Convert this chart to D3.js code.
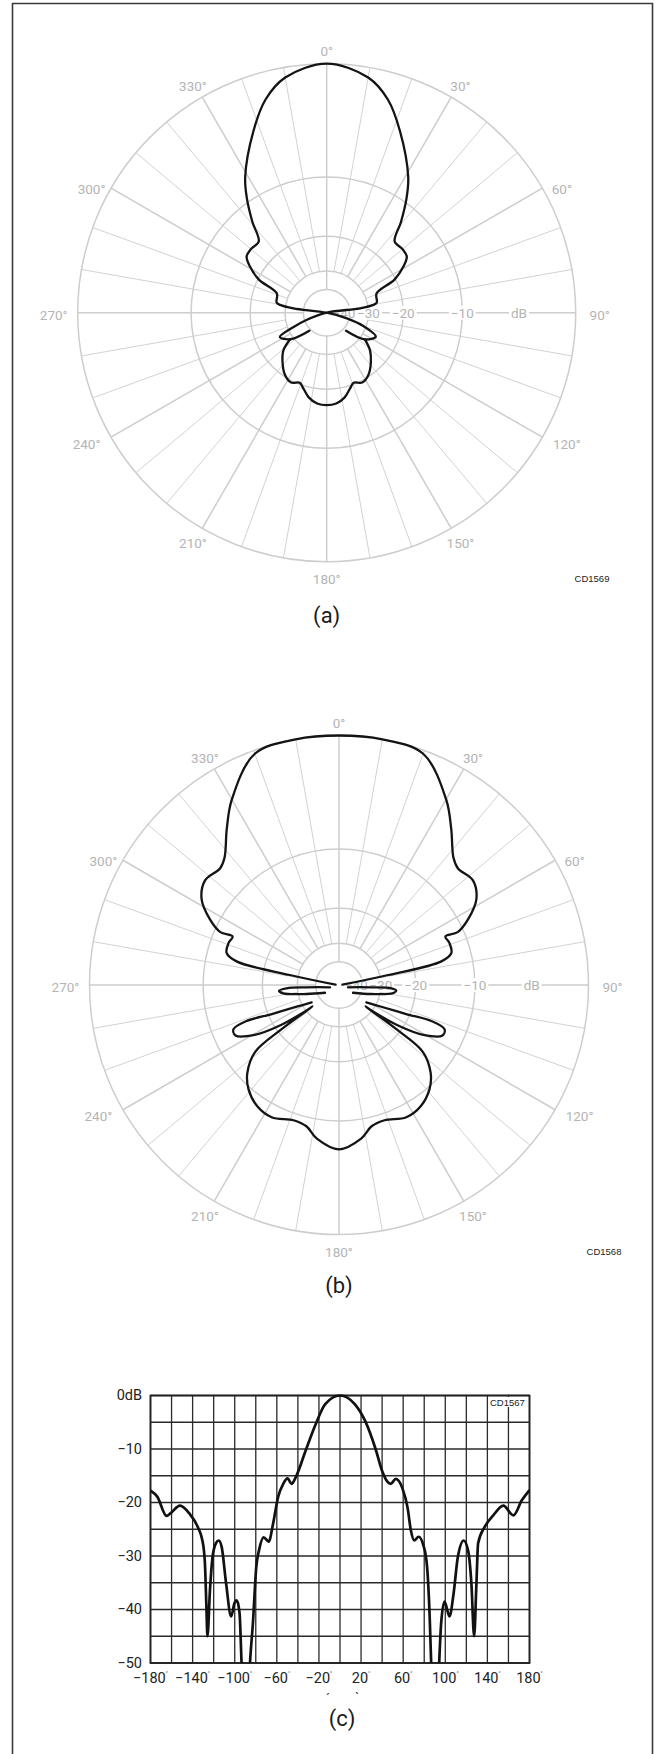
<!DOCTYPE html>
<html><head><meta charset="utf-8">
<script src="https://cdn.jsdelivr.net/npm/d3@7"></script>
<style>html,body{margin:0;padding:0;background:#fff;} svg{display:block;}</style>
</head><body>
<script>
// ---------------- DATA ----------------
const ringDB = [-40, -30, -20, -10, 0];
const ringLabelDB = [-40, -30, -20, -10];
const spokeAngles = d3.range(0, 360, 10);
const angleLabels = [0, 30, 60, 90, 120, 150, 180, 210, 240, 270, 300, 330];

// (a) pattern: [angle°, dB] in drawing order
const aMainPath = [
  [133, -38.3], [125, -28.6], [116, -26.3], [110, -31.5], [105.6, -42], [0, -60],
  [277.5, -34.4], [279.5, -28.4], [281.5, -27.3], [291.2, -26.6], [296, -20.3], [301, -17.8],
  [305, -16.4], [310, -16.2], [316.3, -16.3], [320.7, -13.1], [325, -9.7], [329, -8],
  [338, -4.7], [344, -2.4], [350, -0.9], [360, 0],
  [10, -0.9], [16, -2.4], [22, -4.7], [31, -8], [35, -9.7], [39.3, -13.1], [43.7, -16.3],
  [50, -16.2], [55, -16.4], [59, -17.8], [64, -20.3], [68.8, -26.6], [78.5, -27.3],
  [80.5, -28.4], [82.5, -34.4], [0, -60],
  [250, -41], [246.5, -32.8], [242.5, -26.8], [234, -29], [224, -39.1]
];
const aBackPath = [
  [234, -29], [229, -25.5], [222, -23], [214, -20.5], [207, -19.7], [201, -20.4], [197, -19.5],
  [192, -18.3], [186, -17.5], [180, -17.3], [174, -17.5], [168, -18.3], [163, -19.5], [159, -20.4],
  [153, -19.7], [146, -20.5], [138, -23], [131, -25.5], [125, -28.6]
];

// (b) pattern
const bMainPath = [
  [275, -57], [281.5, -27.6], [283, -15.2], [286, -13.2], [291, -13], [294.5, -13.2],
  [294, -11], [297, -9.2], [302, -7.7], [308, -7], [314.5, -7.3], [318, -6.9], [324.4, -5],
  [330, -3.1], [340, -0.3], [350, 0], [360, 0], [10, 0], [20, -0.3], [30, -3.1], [35.6, -5],
  [42, -6.9], [45.5, -7.3], [52, -7], [58, -7.7], [63, -9.2], [66, -11], [65.5, -13.2],
  [69, -13], [74, -13.2], [77, -15.2], [78.5, -27.6], [85, -57]
];
const bSideLeft = [
  [255.7, -52], [265.9, -35], [266.4, -26.9], [264.5, -24.7], [261.5, -25.8], [254.4, -34.5], [241, -46.2]
];
const bSideRight = [
  [104.3, -52], [94.1, -35], [93.6, -26.9], [95.5, -25.5], [98.5, -26.3], [105.6, -34.5], [119, -46.2]
];
const bBackPath = [
  [237.6, -35.1], [242.6, -28.6], [246.6, -21], [248.7, -16.1], [247.2, -13.6], [244, -13.5],
  [239.4, -16.4], [235.5, -21.6], [232, -30], [231, -34.2],
  [232.4, -21.1], [231.4, -14.8], [226.2, -11.5], [220.9, -9.8], [214.1, -9.1], [207, -8.9],
  [198.6, -9.4], [193, -9.2], [188.2, -8.3], [180, -7.5], [171.8, -8.3], [167, -9.2],
  [161.4, -9.4], [153, -8.9], [145.9, -9.1], [139.1, -9.8], [133.8, -11.5], [128.6, -14.8],
  [127.6, -21.1], [129, -34.2],
  [128, -30], [124.5, -21.6], [120.6, -16.4], [116, -13.5], [112.8, -13.6], [111.3, -16.1],
  [113.4, -21], [117.4, -28.6], [122.4, -35.1]
];

// (c) rectangular plot
const cTicksX = d3.range(-180, 181, 20);
const cLabelsX = [-180, -140, -100, -60, -20, 20, 60, 100, 140, 180];
const cTicksY = d3.range(0, -51, -5);
const cLabelsY = [0, -10, -20, -30, -40, -50];
const cAngle = [
  -180, -173.6, -164.7, -160.9, -152, -143.3, -135.3, -130.5, -128.3, -127, -125.9, -123.5, -121,
  -117.8, -115.2, -112.4, -108.2, -103.4, -100.2, -98, -95.4, -93.5, -92, -87, -85.5, -82.7, -79.5,
  -76.9, -72.5, -67.7, -63.5, -58.7, -53.9, -49.8, -46, -41.2, -33.2, -23.6, -14, 0,
  14, 24, 33.8, 40.2, 45, 48.2, 53, 59.4, 64.2, 67.3, 70.5, 74.7, 79.2, 82.7, 85.3, 86.6, 88, 93,
  94.2, 96.1, 99.3, 104, 107.9, 112, 117.5, 121.6, 124.8, 127.4, 129.6, 131.2, 137.6, 145.6, 155.1,
  164.7, 172.7, 180
];
const cDB = [
  -17.8, -18.9, -22.5, -22, -20.6, -22, -24.5, -27.3, -31.4, -38.8, -45, -36.3, -30.1,
  -27.6, -27.1, -28.3, -35.1, -41.3, -38.8, -38.3, -40.7, -50, -56, -56, -50, -42.5, -32,
  -28.9, -26.5, -27.3, -23.9, -18.9, -16.5, -15.5, -16.5, -14.9, -10.6, -5.6, -1.6, 0,
  -1.6, -4.8, -10, -14.2, -16.1, -16.5, -15.6, -17.4, -21, -25.2, -27.1, -26.4, -28, -32, -42, -50, -56, -56,
  -50, -42.5, -38.5, -41.3, -37, -30.1, -27.1, -28.9, -35.1, -45, -35.1, -27.6, -24.5, -22.4, -20.6,
  -22.4, -19.6, -17.7
];

// ---------------- DRAWING ----------------
const W = 665, H = 1754;
const svg = d3.select("body").append("svg").attr("width", W).attr("height", H);
svg.append("rect").attr("width", W).attr("height", H).attr("fill", "#fff");

// outer frame (open at bottom)
svg.append("path")
  .attr("d", `M12.5,${H + 5} V3.5 H652.5 V${H + 5}`)
  .attr("fill", "none").attr("stroke", "#3a3a3a").attr("stroke-width", 1.6);

const gridCol = "#cdcdcd", labCol = "#b4b4b4";
const FONT = "Roboto, 'DejaVu Sans', sans-serif";
const rad = a => a * Math.PI / 180;

function labelXY(a, R) {
  const s = Math.sin(rad(a)), c = Math.cos(rad(a));
  let x = s * (R + 13 + 11 * Math.abs(s));
  let y = -c * (R + 13) + 2 * (1 - c);
  if (a === 60 || a === 300) y += 6;
  if (a === 120 || a === 240) { x += Math.sign(s) * 5; y -= 3; }
  return [x, y];
}

function polar(cx, cy, R, paths, code, codeXY, title, titleY) {
  const g = svg.append("g").attr("transform", `translate(${cx},${cy})`);
  const r = d3.scaleLinear()
    .domain([-60, -50, -40, -30, -20, -10, 0])
    .range([0, 0.0462, 0.0936, 0.1675, 0.3072, 0.5446, 1].map(f => f * R))
    .clamp(true);

  // spokes
  g.selectAll("line.spoke").data(spokeAngles).join("line")
    .attr("class", "spoke")
    .attr("x1", a => Math.sin(rad(a)) * r(a % 90 === 0 ? -40 : -30))
    .attr("y1", a => -Math.cos(rad(a)) * r(a % 90 === 0 ? -40 : -30))
    .attr("x2", a => Math.sin(rad(a)) * R)
    .attr("y2", a => -Math.cos(rad(a)) * R)
    .attr("stroke", gridCol)
    .attr("stroke-width", a => a % 30 === 0 ? 1.5 : 0.9);

  // rings
  g.selectAll("circle.ring").data(ringDB).join("circle")
    .attr("class", "ring").attr("r", d => r(d))
    .attr("fill", "none").attr("stroke", gridCol)
    .attr("stroke-width", 1.5);

  // angle labels
  g.selectAll("text.ang").data(angleLabels).join("text")
    .attr("class", "ang")
    .attr("x", a => labelXY(a, R)[0])
    .attr("y", a => labelXY(a, R)[1])
    .attr("text-anchor", "middle").attr("dominant-baseline", "central")
    .attr("font-family", FONT).attr("font-size", 13.5).attr("fill", labCol)
    .text(a => a + "°");

  // dB labels on the 90° axis
  const labs = ringLabelDB.map(d => ({ x: r(d) - (d === -40 ? 6 : 0), t: "\u2212" + Math.abs(d) }));
  labs.push({ x: (r(-10) + R) / 2, t: "dB" });
  labs.forEach(L => {
    const gg = g.append("g");
    const bg = gg.append("rect").attr("fill", "#fff");
    const tx = gg.append("text").attr("x", L.x).attr("y", 0)
      .attr("text-anchor", "middle").attr("dominant-baseline", "central")
      .attr("font-family", FONT).attr("font-size", 13.5).attr("fill", labCol).text(L.t);
    const bb = tx.node().getBBox();
    bg.attr("x", bb.x - 2).attr("y", bb.y + 1).attr("width", bb.width + 4).attr("height", bb.height - 2);
  });

  // pattern curves
  const line = d3.lineRadial()
    .angle(d => rad(d[0]))
    .radius(d => r(d[1]))
    .curve(d3.curveCatmullRom.alpha(0.5));
  paths.forEach(p => {
    g.append("path").attr("d", line(p))
      .attr("fill", "none").attr("stroke", "#141414")
      .attr("stroke-width", 2.3).attr("stroke-linejoin", "round").attr("stroke-linecap", "round");
  });

  svg.append("text").attr("x", codeXY[0]).attr("y", codeXY[1])
    .attr("text-anchor", "middle").attr("dominant-baseline", "central")
    .attr("font-family", "'Liberation Sans Narrow', 'Liberation Sans', Arial, sans-serif")
    .attr("font-size", 9.5).attr("fill", "#222").text(code);
  svg.append("text").attr("x", cx).attr("y", titleY)
    .attr("text-anchor", "middle").attr("dominant-baseline", "central")
    .attr("font-family", FONT).attr("font-size", 22).attr("fill", "#1a1a1a").text(title);
}

polar(326.7, 312.7, 249, [aMainPath, aBackPath], "CD1569", [592, 578], "(a)", 615);
polar(339, 985, 249.5, [bMainPath, bSideLeft, bSideRight, bBackPath], "CD1568", [604, 1251], "(b)", 1285);

// ---- (c) ----
const x = d3.scaleLinear().domain([-180, 180]).range([150.5, 529.5]);
const y = d3.scaleLinear().domain([0, -50]).range([1395.5, 1663]);
const gc = svg.append("g");
gc.selectAll("line.vx").data(cTicksX).join("line")
  .attr("x1", d => x(d)).attr("x2", d => x(d)).attr("y1", y(0)).attr("y2", y(-50))
  .attr("stroke", "#2a2a2a").attr("stroke-width", 1.3);
gc.selectAll("line.hy").data(cTicksY).join("line")
  .attr("x1", x(-180)).attr("x2", x(180)).attr("y1", d => y(d)).attr("y2", d => y(d))
  .attr("stroke", "#2a2a2a").attr("stroke-width", 1.3);
gc.append("rect").attr("x", x(-180)).attr("y", y(0)).attr("width", x(180) - x(-180)).attr("height", y(-50) - y(0))
  .attr("fill", "none").attr("stroke", "#222").attr("stroke-width", 1.8);

// code label box
const cdx = x(160), cdy = 1402.5;
gc.append("rect").attr("x", cdx - 17).attr("y", y(0) + 1.5).attr("width", 34).attr("height", 10).attr("fill", "#fff");
gc.append("text").attr("x", cdx - 1).attr("y", cdy)
  .attr("text-anchor", "middle").attr("dominant-baseline", "central")
  .attr("font-family", "'Liberation Sans Narrow', 'Liberation Sans', Arial, sans-serif")
  .attr("font-size", 9.5).attr("fill", "#222").text("CD1567");

svg.append("clipPath").attr("id", "cclip").append("rect")
  .attr("x", x(-180)).attr("y", y(0) - 3).attr("width", x(180) - x(-180)).attr("height", y(-50) - y(0) + 3);
const cLine = d3.line().x((d, i) => x(cAngle[i])).y(d => y(d)).curve(d3.curveMonotoneX);
gc.append("path").attr("d", cLine(cDB)).attr("clip-path", "url(#cclip)")
  .attr("fill", "none").attr("stroke", "#111").attr("stroke-width", 2.7).attr("stroke-linejoin", "round");

// y labels
gc.selectAll("text.yl").data(cLabelsY).join("text")
  .attr("x", 142).attr("y", d => y(d))
  .attr("text-anchor", "end").attr("dominant-baseline", "central")
  .attr("font-family", FONT).attr("font-size", 14.5).attr("fill", "#222")
  .text(d => d === 0 ? "0dB" : "\u2212" + Math.abs(d));
// x labels
const xl = gc.selectAll("text.xl").data(cLabelsX).join("text")
  .attr("x", d => x(d)).attr("y", 1678)
  .attr("text-anchor", "middle").attr("dominant-baseline", "central")
  .attr("font-family", FONT).attr("font-size", 14.5).attr("fill", "#222");
xl.append("tspan").text(d => (d < 0 ? "\u2212" : "") + Math.abs(d));
xl.append("tspan").attr("font-size", 6).attr("dy", -6).text("°");

// (c) title
svg.append("text").attr("x", 342).attr("y", 1718)
  .attr("text-anchor", "middle").attr("dominant-baseline", "central")
  .attr("font-family", FONT).attr("font-size", 22).attr("fill", "#1a1a1a").text("(c)");
svg.append("text").attr("x", 328).attr("y", 1703).attr("text-anchor", "middle")
  .attr("font-family", FONT).attr("font-size", 12).attr("fill", "#1a1a1a").text("\u00B4");
svg.append("text").attr("x", 357).attr("y", 1702).attr("text-anchor", "middle")
  .attr("font-family", FONT).attr("font-size", 12).attr("fill", "#1a1a1a").text("`");
</script>
</body></html>
